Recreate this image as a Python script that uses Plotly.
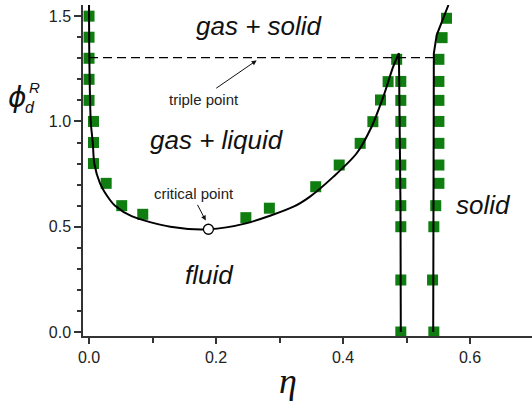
import plotly.graph_objects as go

# ---- data ----
# theory: binodal (gas-liquid coexistence) curve
binodal_eta = [0.0, 0.0005, 0.0027, 0.006, 0.0083, 0.0173, 0.033, 0.041, 0.067, 0.128,
               0.188, 0.247, 0.322, 0.348, 0.385, 0.4215, 0.445, 0.4635, 0.479, 0.488]
binodal_phi = [1.553, 1.3, 1.0, 0.896, 0.80, 0.706, 0.627, 0.6, 0.55, 0.5,
               0.488, 0.516, 0.595, 0.643, 0.738, 0.849, 0.975, 1.118, 1.26, 1.324]
# theory: liquid side of the freezing line
freeze_eta = [0.488, 0.4905, 0.491]
freeze_phi = [1.324, 0.6, 0.0]
# theory: solid side of the melting line
melt_eta = [0.542, 0.543, 0.5475, 0.566]
melt_phi = [0.0, 1.324, 1.41, 1.553]
# triple point line
triple_eta = [0.0, 0.543]
triple_phi = [1.303, 1.303]
# critical point
crit_eta = [0.188]
crit_phi = [0.488]

# simulation points (green squares)
sim_gas_eta = [0.0, 0.0, 0.0, 0.0, 0.0, 0.007, 0.007, 0.007, 0.027, 0.0515, 0.0846,
               0.247, 0.284, 0.357, 0.394, 0.427, 0.447, 0.459, 0.471, 0.4845]
sim_gas_phi = [1.5, 1.4, 1.3, 1.2, 1.1, 1.0, 0.9, 0.8, 0.706, 0.6, 0.559,
               0.543, 0.588, 0.69, 0.793, 0.896, 0.999, 1.102, 1.189, 1.295]
sim_liq_eta = [0.491, 0.491, 0.491, 0.491, 0.491, 0.491, 0.491, 0.491, 0.491, 0.491]
sim_liq_phi = [1.19, 1.10, 1.0, 0.896, 0.793, 0.706, 0.6, 0.5, 0.247, 0.0]
sim_sol_eta = [0.563, 0.556, 0.551, 0.551, 0.551, 0.551, 0.551, 0.551, 0.551, 0.546, 0.543, 0.541, 0.543]
sim_sol_phi = [1.49, 1.398, 1.295, 1.19, 1.10, 1.0, 0.896, 0.793, 0.706, 0.6, 0.5, 0.247, 0.0]

x_tickvals = [0.0, 0.2, 0.4, 0.6]
x_ticktext = ["0.0", "0.2", "0.4", "0.6"]
x_minorvals = [0.1, 0.3, 0.5]
y_tickvals = [0.0, 0.5, 1.0, 1.5]
y_ticktext = ["0.0", "0.5", "1.0", "1.5"]
y_minorvals = [0.1, 0.2, 0.3, 0.4, 0.6, 0.7, 0.8, 0.9, 1.1, 1.2, 1.3, 1.4]

FONT = "Liberation Sans, Arial, sans-serif"
GREEN = "#0f7d0f"
AX = "#333333"

fig = go.Figure()
sq = dict(symbol="square", size=11, color=GREEN, line=dict(width=0))
fig.add_trace(go.Scatter(x=sim_gas_eta, y=sim_gas_phi, mode="markers", marker=sq))
fig.add_trace(go.Scatter(x=sim_liq_eta, y=sim_liq_phi, mode="markers", marker=sq))
fig.add_trace(go.Scatter(x=sim_sol_eta, y=sim_sol_phi, mode="markers", marker=sq))

fig.add_trace(go.Scatter(x=triple_eta, y=triple_phi, mode="lines",
                         line=dict(color="black", width=1.4, dash="9px,5px")))
fig.add_trace(go.Scatter(x=binodal_eta, y=binodal_phi, mode="lines",
                         line=dict(color="black", width=2, shape="spline", smoothing=0.8)))
fig.add_trace(go.Scatter(x=freeze_eta, y=freeze_phi, mode="lines",
                         line=dict(color="black", width=2)))
fig.add_trace(go.Scatter(x=melt_eta, y=melt_phi, mode="lines",
                         line=dict(color="black", width=2)))
fig.add_trace(go.Scatter(x=crit_eta, y=crit_phi, mode="markers",
                         marker=dict(symbol="circle", size=10, color="white",
                                     line=dict(color="black", width=1.3))))

big = dict(family=FONT, size=26, color="#111111")
small = dict(family=FONT, size=15, color="#222222")
ann = [
    dict(x=0.2677, y=1.454, text="<i>gas + solid</i>", font=big),
    dict(x=0.2016, y=0.912, text="<i>gas + liquid</i>", font=big),
    dict(x=0.189, y=0.271, text="<i>fluid</i>", font=big),
    dict(x=0.622, y=0.603, text="<i>solid</i>", font=big),
    dict(x=0.181, y=1.102, text="triple point", font=small),
    dict(x=0.165, y=0.66, text="critical point", font=small),
]
annotations = []
for a in ann:
    annotations.append(dict(xref="x", yref="y", showarrow=False, xanchor="center",
                            yanchor="middle", **a))
# arrows
annotations.append(dict(xref="x", yref="y", axref="x", ayref="y", x=0.264, y=1.29,
                        ax=0.198, ay=1.153, text="", showarrow=True, arrowhead=2,
                        arrowsize=1, arrowwidth=1, arrowcolor="#111111"))
annotations.append(dict(xref="x", yref="y", axref="x", ayref="y", x=0.1838, y=0.529,
                        ax=0.1696, ay=0.611, text="", showarrow=True, arrowhead=2,
                        arrowsize=1, arrowwidth=1, arrowcolor="#111111"))
# axis titles
title_font = dict(color="#111111")
annotations.append(dict(xref="paper", yref="paper", x=-0.147, y=0.722, showarrow=False,
                        xanchor="center", yanchor="middle",
                        text="<i>ϕ</i>", font=dict(family="DejaVu Sans, sans-serif", size=28,
                                                   **title_font)))
annotations.append(dict(xref="paper", yref="paper", x=-0.108, y=0.752, showarrow=False,
                        xanchor="center", yanchor="middle",
                        text="<i>R</i>", font=dict(family=FONT, size=15, **title_font)))
annotations.append(dict(xref="paper", yref="paper", x=-0.117, y=0.69, showarrow=False,
                        xanchor="center", yanchor="middle",
                        text="<i>d</i>", font=dict(family=FONT, size=16, **title_font)))
annotations.append(dict(xref="paper", yref="paper", x=0.4566, y=-0.2024, showarrow=False,
                        xanchor="center", yanchor="bottom",
                        text="<i>η</i>", font=dict(family="Liberation Serif, serif", size=36,
                                                    color="#111111")))

axis_common = dict(showgrid=False, zeroline=False, showline=True, linecolor=AX, linewidth=1.5,
                   ticks="outside", tickcolor=AX, tickwidth=1.5,
                   tickfont=dict(family=FONT, size=16, color="#222222"), tickmode="array")
fig.update_layout(
    width=532, height=403,
    margin=dict(l=83, r=0, t=5, b=67),
    paper_bgcolor="white", plot_bgcolor="white",
    showlegend=False,
    annotations=annotations,
    xaxis=dict(range=[-0.0095, 0.6976], tickvals=x_tickvals, ticktext=x_ticktext, ticklen=6,
               minor=dict(tickmode="array", tickvals=x_minorvals, ticks="outside", ticklen=5,
                          tickwidth=1.5, tickcolor=AX, showgrid=False),
               **axis_common),
    yaxis=dict(range=[-0.019, 1.553], tickvals=y_tickvals, ticktext=y_ticktext, ticklen=7,
               minor=dict(tickmode="array", tickvals=y_minorvals, ticks="outside", ticklen=4,
                          tickwidth=1.5, tickcolor=AX, showgrid=False),
               **axis_common),
)
fig.write_html("out.html", config={"displayModeBar": False},
               post_script="document.body.style.margin='0';document.body.style.padding='0';")
